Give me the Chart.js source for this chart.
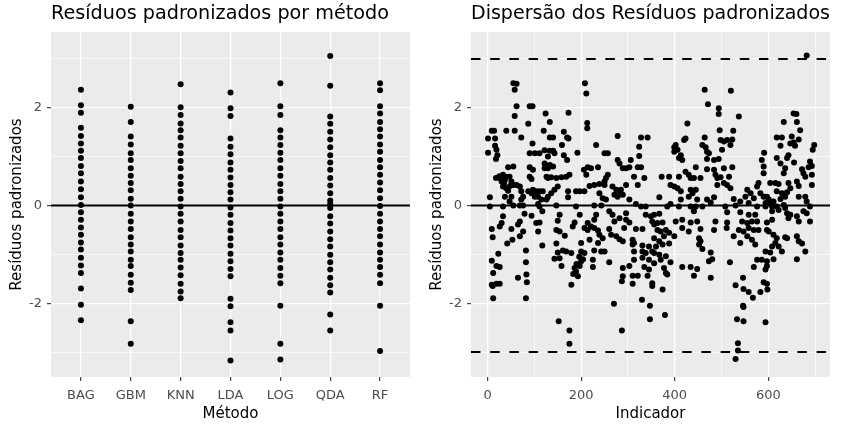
<!DOCTYPE html>
<html>
<head>
<meta charset="utf-8">
<script src="https://cdn.jsdelivr.net/npm/chart.js@4.4.0/dist/chart.umd.min.js"></script>
<style>
  html, body { margin: 0; padding: 0; background: #fff; }
  #wrap { position: relative; width: 841px; height: 429px; }
  #chartMetodo { position: absolute; left: 0; top: 0; }
  #chartIndicador { position: absolute; left: 420px; top: 0; }
</style>
</head>
<body>
<div id="wrap">
  <canvas id="chartMetodo" width="420" height="429" style="width:420px;height:429px"></canvas>
  <canvas id="chartIndicador" width="421" height="429" style="width:421px;height:429px"></canvas>
</div>
<script>
// ---- dados: resíduos por método (painel esquerdo) ----
const metodos = ["BAG", "GBM", "KNN", "LDA", "LOG", "QDA", "RF"];
const residuosBAG = [2.37, 2.05, 1.90, 1.59, 1.42, 1.27, 1.12, 0.97, 0.81, 0.66, 0.49, 0.33, 0.17, 0.01, -0.14, -0.29, -0.45, -0.60, -0.76, -0.90, -1.07, -1.23, -1.38, -1.70, -2.03, -2.35];
const residuosGBM = [2.02, 1.71, 1.41, 1.25, 1.07, 0.93, 0.76, 0.61, 0.46, 0.31, 0.14, 0.00, -0.17, -0.33, -0.48, -0.65, -0.80, -0.94, -1.11, -1.24, -1.42, -1.58, -1.73, -2.37, -2.83];
const residuosKNN = [2.48, 2.01, 1.85, 1.68, 1.54, 1.39, 1.22, 1.07, 0.91, 0.76, 0.59, 0.44, 0.29, 0.14, -0.02, -0.17, -0.33, -0.50, -0.65, -0.82, -0.97, -1.11, -1.27, -1.43, -1.60, -1.76, -1.90];
const residuosLDA = [2.31, 1.99, 1.83, 1.37, 1.20, 1.05, 0.88, 0.73, 0.57, 0.42, 0.27, 0.12, -0.04, -0.19, -0.36, -0.51, -0.67, -0.82, -0.99, -1.14, -1.30, -1.45, -1.91, -2.06, -2.39, -2.56, -3.17];
const residuosLOG = [2.50, 2.03, 1.85, 1.54, 1.39, 1.24, 1.08, 0.93, 0.76, 0.61, 0.44, 0.29, 0.14, -0.02, -0.17, -0.33, -0.48, -0.65, -0.80, -0.96, -1.11, -1.28, -1.44, -1.59, -2.05, -2.83, -3.15];
const residuosQDA = [3.06, 2.45, 1.82, 1.67, 1.51, 1.35, 1.19, 1.03, 0.88, 0.73, 0.56, 0.41, 0.25, 0.10, 0.03, -0.05, -0.22, -0.37, -0.53, -0.69, -0.84, -1.01, -1.16, -1.31, -1.48, -1.63, -1.78, -2.23, -2.56];
const residuosRF = [2.50, 2.36, 2.03, 1.88, 1.71, 1.56, 1.41, 1.25, 1.10, 0.93, 0.78, 0.63, 0.47, 0.31, 0.15, -0.01, -0.17, -0.33, -0.48, -0.63, -0.80, -0.96, -1.11, -1.26, -1.42, -1.59, -2.05, -2.98];
const residuosMetodo = [residuosBAG, residuosGBM, residuosKNN, residuosLDA, residuosLOG, residuosQDA, residuosRF];

// ---- dados: resíduos por indicador (painel direito), pares [indicador, resíduo] ----
const pontosIndicador = [
  [55,2.50],[62,2.49],[58,2.37],[62,2.03],[90,2.03],[96,2.03],[58,1.83],[124,1.88],[87,1.67],
  [9,1.53],[14,1.53],[40,1.53],[58,1.53],[120,1.53],[1,1.37],[16,1.37],[72,1.39],[16,1.22],[19,1.14],
  [96,1.27],[1,1.08],[21,1.03],[90,1.07],[101,1.07],[111,1.07],[18,0.95],[44,0.78],[55,0.80],[90,0.78],
  [97,0.73],[18,0.56],[33,0.63],[40,0.59],[37,0.52],[30,0.49],[47,0.59],[51,0.49],[55,0.42],[90,0.59],
  [94,0.54],[129,0.56],[33,0.39],[40,0.35],[62,0.42],[69,0.39],[72,0.29],[87,0.29],[97,0.32],[104,0.29],
  [111,0.29],[118,0.29],[37,0.18],[51,0.18],[47,0.08],[76,0.18],[72,0.12],[94,0.25],[101,0.18],[108,0.18],
  [115,0.12],[5,0.17],[5,-0.02],[33,-0.02],[55,0.00],[69,0.00],[76,0.00],[108,0.03],[111,-0.02],[117,-0.12],
  [28,0.55],[35,0.45],[44,0.30],[25,0.60],[48,0.40],
  [33,-0.22],[30,-0.36],[26,-0.43],[9,-0.48],[11,-0.65],[51,-0.48],[69,-0.33],[65,-0.39],[79,-0.17],[94,-0.21],
  [104,-0.36],[111,-0.35],[108,-0.53],[76,-0.53],[69,-0.63],[53,-0.70],[42,-0.78],[117,-0.82],[82,-0.92],[23,-0.99],
  [9,-1.13],[19,-1.24],[26,-1.26],[12,-1.38],[82,-1.16],[83,-1.41],[65,-1.48],[84,-1.57],[9,-1.62],[19,-1.60],
  [26,-1.60],[11,-1.65],[12,-1.90],[82,-1.90],
  [208,2.50],[211,2.29],[173,1.90],[133,1.71],[213,1.69],[213,1.58],[133,1.39],[140,1.39],[163,1.51],[170,1.39],
  [173,1.37],[278,1.42],[232,1.24],[159,1.24],[122,1.13],[133,1.12],[140,1.12],[143,1.07],[129,1.00],[163,1.03],
  [170,0.93],[192,1.08],[250,1.07],[257,1.07],[278,0.93],[282,0.86],[289,0.76],[122,0.86],[133,0.83],[140,0.80],
  [122,0.76],[129,0.76],[206,0.73],[214,0.78],[221,0.76],[236,0.78],[211,0.63],[257,0.63],[253,0.56],[250,0.49],
  [126,0.59],[136,0.58],[147,0.56],[158,0.58],[168,0.59],[175,0.63],[150,0.39],[143,0.32],[136,0.25],[129,0.18],
  [126,0.12],[172,0.29],[172,0.17],[189,0.29],[197,0.29],[207,0.29],[218,0.40],[228,0.42],[239,0.44],[250,0.42],
  [239,0.25],[246,0.15],[253,0.12],[267,0.39],[275,0.32],[282,0.29],[289,0.22],[271,0.22],[278,0.18],[147,0.00],
  [189,-0.02],[228,0.00],[243,0.00],[154,-0.19],[197,-0.19],[232,-0.19],[260,-0.12],[267,-0.19],[150,-0.31],[186,-0.35],
  [182,-0.43],[214,-0.36],[228,-0.29],[221,-0.43],[271,-0.33],[282,-0.26],[147,-0.50],[154,-0.53],[207,-0.46],[214,-0.50],
  [228,-0.46],[236,-0.51],[239,-0.60],[246,-0.67],[260,-0.48],[264,-0.60],[275,-0.63],[282,-0.69],[289,-0.73],[165,-0.62],
  [200,-0.77],[218,-0.70],[236,-0.77],[147,-0.78],[150,-0.96],[161,-0.92],[168,-0.94],[179,-0.97],[200,-0.94],[207,-0.97],
  [204,-1.10],[228,-0.92],[243,-0.94],[250,-0.94],[143,-1.09],[154,-1.08],[158,-1.24],[200,-1.14],[197,-1.24],[189,-1.35],
  [193,-1.45],[179,-1.62],[225,-1.11],[225,-1.26],[260,-1.16],[289,-1.28],[289,-1.45],[287,-1.55],[270,-2.01],[152,-2.37],
  [175,-2.56],[175,-2.83],[287,-2.56],[186,-1.28],[190,-1.20],[183,-1.40],[196,-1.05],
  [427,1.68],[423,1.37],[420,1.34],[402,1.24],[399,1.19],[406,1.14],[399,1.10],[409,0.97],[416,0.93],[413,1.03],
  [328,1.39],[342,1.39],[324,1.20],[324,1.01],[296,0.76],[303,0.78],[306,0.93],[321,0.78],[328,0.78],[313,0.59],
  [335,0.56],[321,0.42],[296,0.42],[285,0.32],[372,0.59],[388,0.59],[409,0.59],[423,0.69],[430,0.63],[434,0.56],
  [391,0.42],[399,0.39],[413,0.29],[406,0.35],[434,0.32],[438,0.25],[430,0.18],[367,0.17],[413,0.12],[303,0.12],
  [317,0.03],[328,-0.02],[338,-0.02],[384,-0.02],[391,0.03],[409,-0.02],[434,-0.02],[296,-0.16],[296,-0.29],[338,-0.19],
  [349,-0.22],[356,-0.19],[367,-0.17],[352,-0.33],[356,-0.39],[363,-0.36],[374,-0.35],[402,-0.33],[416,-0.29],[434,-0.35],
  [303,-0.35],[292,-0.46],[317,-0.48],[331,-0.48],[363,-0.50],[370,-0.53],[381,-0.50],[388,-0.56],[377,-0.63],[399,-0.63],
  [416,-0.46],[430,-0.53],[310,-0.70],[313,-0.77],[310,-0.80],[356,-0.67],[367,-0.73],[374,-0.80],[360,-0.84],[388,-0.78],
  [331,-0.82],[345,-0.84],[331,-0.94],[338,-0.97],[352,-0.94],[356,-0.97],[367,-1.01],[381,-1.04],[313,-0.94],[313,-1.11],
  [331,-1.07],[345,-1.11],[370,-1.11],[391,-1.16],[356,-1.18],[303,-1.24],[335,-1.26],[345,-1.31],[377,-1.28],[381,-1.38],
  [384,-1.41],[416,-1.26],[434,-1.26],[310,-1.44],[321,-1.44],[342,-1.44],[310,-1.60],[352,-1.59],[352,-1.65],[374,-1.72],
  [330,-1.93],[347,-2.05],[347,-2.33],[379,-2.24],
  [464,2.37],[520,2.35],[471,2.07],[494,1.99],[494,1.87],[537,1.82],[496,1.54],[525,1.53],[464,1.39],[459,1.24],
  [466,1.19],[469,1.10],[473,1.07],[498,1.34],[505,1.31],[512,1.34],[523,1.35],[519,1.24],[501,1.14],[591,1.08],
  [586,0.93],[590,0.80],[590,0.66],[469,0.95],[484,0.93],[494,0.95],[445,0.78],[469,0.74],[484,0.73],[505,0.76],
  [523,0.78],[441,0.56],[455,0.56],[487,0.63],[491,0.56],[498,0.58],[516,0.59],[491,0.42],[505,0.46],[512,0.42],
  [519,0.35],[579,0.46],[576,0.39],[604,0.46],[555,0.32],[562,0.25],[551,0.18],[569,0.15],[583,0.25],[590,0.18],
  [601,0.12],[445,0.32],[448,0.12],[469,0.12],[484,0.17],[477,0.06],[526,0.13],[540,0.08],[558,0.05],[445,-0.02],
  [459,-0.02],[508,-0.02],[530,0.00],[576,-0.02],[594,-0.02],[608,-0.02],[441,-0.12],[512,-0.14],[540,-0.14],[558,-0.19],
  [572,-0.19],[448,-0.33],[487,-0.33],[512,-0.35],[544,-0.33],[555,-0.36],[565,-0.33],[576,-0.33],[597,-0.35],[455,-0.48],
  [484,-0.50],[511,-0.46],[537,-0.50],[547,-0.53],[558,-0.46],[569,-0.50],[579,-0.50],[601,-0.53],[452,-0.67],[455,-0.73],
  [452,-0.80],[459,-0.89],[526,-0.63],[540,-0.77],[555,-0.63],[565,-0.70],[572,-0.80],[608,-0.84],[604,-0.96],[477,-0.96],
  [480,-1.10],[473,-1.14],[518,-1.16],[576,-1.11],[586,-1.11],[569,-1.26],[597,-1.24],[594,-1.31],[448,-1.30],[441,-1.44],
  [477,-1.48],[546,-1.48],[530,-1.63],[547,-1.71],[558,-1.77],[567,-1.89],[590,-1.57],[597,-1.60],[598,-1.72],[583,-1.77],
  [546,-2.05],[547,-2.08],[533,-2.33],[547,-2.37],[594,-2.39],[535,-2.82],[535,-2.97],[530,-3.14],
  [682,3.07],[654,1.88],[660,1.87],[661,1.71],[633,1.71],[668,1.54],[618,1.39],[629,1.39],[650,1.41],[665,1.35],
  [626,1.22],[647,1.27],[657,1.22],[654,1.29],[698,1.24],[695,1.14],[643,1.03],[640,0.97],[618,0.97],[626,0.86],
  [655,0.88],[689,0.90],[686,0.78],[693,0.81],[636,0.76],[633,0.66],[672,0.74],[675,0.66],[679,0.59],[693,0.63],
  [661,0.49],[665,0.40],[643,0.46],[647,0.35],[693,0.42],[615,0.46],[622,0.44],[618,0.29],[629,0.25],[640,0.27],
  [636,0.18],[665,0.18],[679,0.18],[682,0.08],[597,0.18],[604,0.05],[594,0.05],[611,0.08],[626,0.13],[633,0.01],
  [636,-0.05],[618,-0.02],[622,-0.09],[640,-0.16],[647,-0.19],[643,-0.26],[661,-0.22],[665,-0.33],[675,-0.12],[682,-0.16],
  [689,-0.02],[689,-0.33],[608,-0.12],[608,-0.29],[597,-0.50],[611,-0.60],[618,-0.67],[615,-0.77],[622,-0.84],[636,-0.65],
  [640,-0.67],[661,-0.63],[665,-0.73],[672,-0.78],[679,-0.94],[661,-1.10],[629,-0.94],[611,-1.10],[594,-0.94],[597,-1.14]
];

// linhas de referência
const linhaZero = 0;
const limitesDiagnostico = [-3, 3];
const metodoTickLabels = metodos;
const indicadorTicks = [0, 200, 400, 600];

// ---- eixos / aparência ----
const FONTE = "'DejaVu Sans', 'Liberation Sans', Arial, sans-serif";
const Y_MIN = -3.51, Y_MAX = 3.55;
const X_METODO_MIN = 0.4, X_METODO_MAX = 7.6;
const X_IND_MIN = -35.4, X_IND_MAX = 731.8;

// fundo cinza do painel (estilo ggplot)
const painelFundo = {
  id: "painelFundo",
  beforeDraw(chart) {
    const { ctx, chartArea: a } = chart;
    ctx.save();
    ctx.fillStyle = "#EBEBEB";
    ctx.fillRect(a.left, a.top, a.right - a.left, a.bottom - a.top);
    ctx.restore();
  }
};

function tituloPainel(texto) {
  return {
    display: true,
    text: texto,
    align: "start",
    fullSize: false,
    color: "#000000",
    font: { family: FONTE, size: 19.2, weight: "normal" },
    padding: { top: 2.5, bottom: 6.46 }
  };
}

function escalaY() {
  return {
    type: "linear",
    min: Y_MIN,
    max: Y_MAX,
    afterFit: s => { s.width = 51; },
    border: { display: false },
    grid: {
      color: "#FFFFFF",
      lineWidth: c => (c.tick && c.tick.value % 2 === 0) ? 1.3 : 0.65,
      tickColor: c => (c.tick && c.tick.value % 2 === 0) ? "#333333" : "rgba(0,0,0,0)",
      tickLength: 4,
      tickWidth: 1.1
    },
    ticks: {
      stepSize: 1,
      includeBounds: false,
      padding: 5,
      color: "#4D4D4D",
      font: { family: FONTE, size: 13 },
      callback: v => (v % 2 === 0 ? String(v) : "")
    },
    title: {
      display: true,
      text: "Resíduos padronizados",
      color: "#000000",
      font: { family: FONTE, size: 15 },
      padding: { top: 8.5, bottom: 0 }
    }
  };
}

function tituloEixoX(texto) {
  return {
    display: true,
    text: texto,
    color: "#000000",
    font: { family: FONTE, size: 15 },
    padding: { top: 0, bottom: 5.9 }
  };
}

function pontos(data) {
  return {
    data,
    backgroundColor: "#000000",
    borderWidth: 0,
    pointRadius: 3,
    pointHoverRadius: 3,
    order: 1
  };
}

function linhaH(y, xmin, xmax, dash) {
  return {
    data: [{ x: xmin, y }, { x: xmax, y }],
    showLine: true,
    borderColor: "#000000",
    borderWidth: 2,
    borderDash: dash || [],
    pointRadius: 0,
    fill: false,
    order: 0
  };
}

const opcoesBase = (titulo, escalaX, padRight) => ({
  responsive: false,
  animation: false,
  events: [],
  layout: { padding: { left: 0, right: padRight, top: 0, bottom: 0 } },
  plugins: {
    legend: { display: false },
    tooltip: { enabled: false },
    title: tituloPainel(titulo)
  },
  scales: { x: escalaX, y: escalaY() }
});

// ---- painel esquerdo ----
const dsMetodo = residuosMetodo.map((vals, i) => pontos(vals.map(y => ({ x: i + 1, y }))));
dsMetodo.push(linhaH(linhaZero, X_METODO_MIN, X_METODO_MAX));

new Chart(document.getElementById("chartMetodo"), {
  type: "scatter",
  data: { datasets: dsMetodo },
  options: opcoesBase("Resíduos padronizados por método", {
    type: "linear",
    min: X_METODO_MIN,
    max: X_METODO_MAX,
    afterFit: s => { s.height = 52; },
    border: { display: false },
    grid: { color: "#FFFFFF", lineWidth: 1.3, tickColor: "#333333", tickLength: 4, tickWidth: 1.1 },
    ticks: {
      stepSize: 1,
      includeBounds: false,
      autoSkip: false,
      maxRotation: 0,
      padding: 6.4,
      color: "#4D4D4D",
      font: { family: FONTE, size: 13 },
      callback: v => metodoTickLabels[v - 1] || ""
    },
    title: tituloEixoX("Método")
  }, 10),
  plugins: [painelFundo]
});

// ---- painel direito ----
const dsIndicador = [pontos(pontosIndicador.map(p => ({ x: p[0], y: p[1] })))];
dsIndicador.push(linhaH(linhaZero, X_IND_MIN, X_IND_MAX));
limitesDiagnostico.forEach(v => dsIndicador.push(linhaH(v, X_IND_MIN, X_IND_MAX, [9.5, 9.7])));

new Chart(document.getElementById("chartIndicador"), {
  type: "scatter",
  data: { datasets: dsIndicador },
  options: opcoesBase("Dispersão dos Resíduos padronizados", {
    type: "linear",
    min: X_IND_MIN,
    max: X_IND_MAX,
    afterFit: s => { s.height = 52; },
    border: { display: false },
    grid: {
      color: "#FFFFFF",
      lineWidth: c => (c.tick && indicadorTicks.includes(c.tick.value)) ? 1.3 : 0.65,
      tickColor: c => (c.tick && indicadorTicks.includes(c.tick.value)) ? "#333333" : "rgba(0,0,0,0)",
      tickLength: 4,
      tickWidth: 1.1
    },
    ticks: {
      stepSize: 100,
      includeBounds: false,
      autoSkip: false,
      maxRotation: 0,
      padding: 6.4,
      color: "#4D4D4D",
      font: { family: FONTE, size: 13 },
      callback: v => (indicadorTicks.includes(v) ? String(v) : "")
    },
    title: tituloEixoX("Indicador")
  }, 11),
  plugins: [painelFundo]
});
</script>
</body>
</html>
